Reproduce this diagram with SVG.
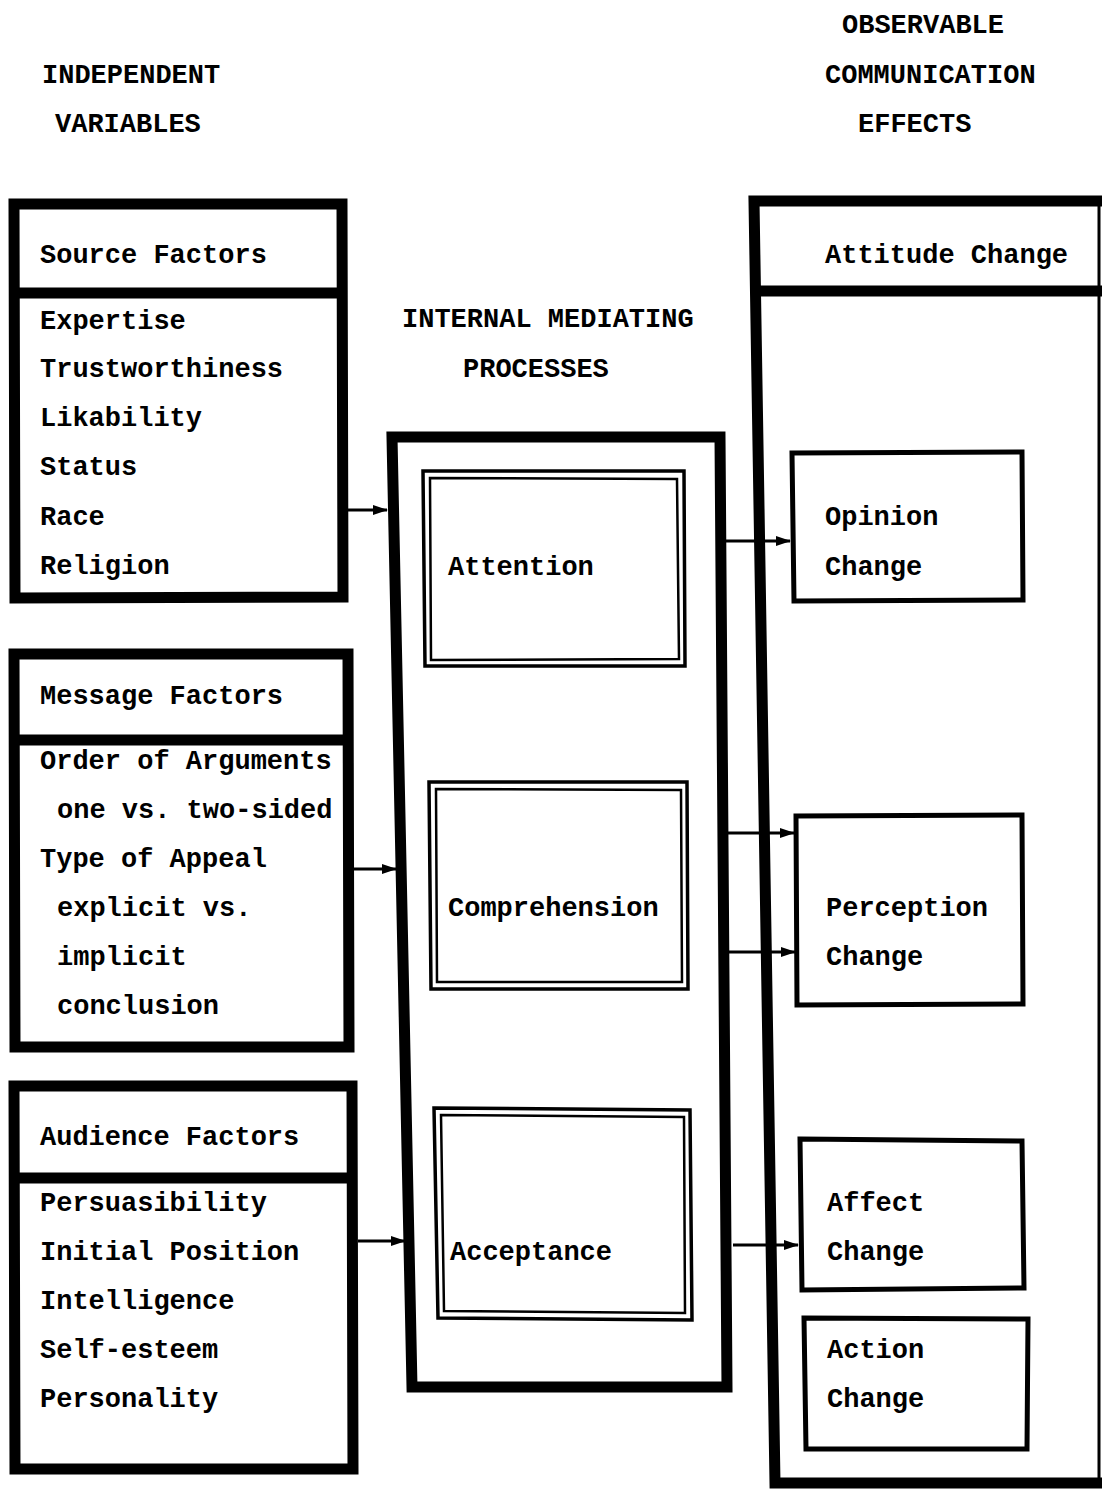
<svg xmlns="http://www.w3.org/2000/svg" width="1102" height="1489" viewBox="0 0 1102 1489">
  <style>
    text { font-family: "Liberation Mono", "Courier New", monospace; font-weight: bold; font-size: 27px; fill: #000; }
    .heavy { fill: none; stroke: #000; stroke-width: 11; stroke-linejoin: miter; }
    .div { stroke: #000; stroke-width: 11; }
    .med { fill: none; stroke: #000; stroke-width: 5; }
    .dbl-o { fill: none; stroke: #000; stroke-width: 3.5; }
    .dbl-i { fill: none; stroke: #000; stroke-width: 2.5; }
    .conn { stroke: #000; stroke-width: 3; fill: none; }
  </style>
  <defs>
    <marker id="head" markerWidth="15" markerHeight="12" refX="14" refY="6" orient="auto" markerUnits="userSpaceOnUse">
      <path d="M0,1 L15,6 L0,11 Z" fill="#000"/>
    </marker>
  </defs>
  <rect width="1102" height="1489" fill="#fff"/>

  <!-- column headings -->
  <g id="headings">
    <text x="42" y="83">INDEPENDENT</text>
    <text x="55" y="132">VARIABLES</text>
    <text x="842" y="33">OBSERVABLE</text>
    <text x="825" y="83">COMMUNICATION</text>
    <text x="858" y="132">EFFECTS</text>
    <text x="402" y="327">INTERNAL MEDIATING</text>
    <text x="463" y="377">PROCESSES</text>
  </g>

  <!-- independent variables -->
  <g id="source-factors">
    <path class="heavy" d="M14,204 L342,204 L343,597 L15,598 Z"/>
    <line class="div" x1="14" y1="293" x2="342" y2="293"/>
    <text x="40" y="263">Source Factors</text>
    <text x="40" y="329">Expertise</text>
    <text x="40" y="377">Trustworthiness</text>
    <text x="40" y="426">Likability</text>
    <text x="40" y="475">Status</text>
    <text x="40" y="525">Race</text>
    <text x="40" y="574">Religion</text>
  </g>

  <g id="message-factors">
    <path class="heavy" d="M14,654 L348,654 L349,1047 L15,1047 Z"/>
    <line class="div" x1="14" y1="740" x2="348" y2="740"/>
    <text x="40" y="704">Message Factors</text>
    <text x="40" y="769">Order of Arguments</text>
    <text x="57" y="818">one vs. two-sided</text>
    <text x="40" y="867">Type of Appeal</text>
    <text x="57" y="916">explicit vs.</text>
    <text x="57" y="965">implicit</text>
    <text x="57" y="1014">conclusion</text>
  </g>

  <g id="audience-factors">
    <path class="heavy" d="M14,1086 L352,1086 L353,1469 L15,1469 Z"/>
    <line class="div" x1="14" y1="1178" x2="352" y2="1178"/>
    <text x="40" y="1145">Audience Factors</text>
    <text x="40" y="1211">Persuasibility</text>
    <text x="40" y="1260">Initial Position</text>
    <text x="40" y="1309">Intelligence</text>
    <text x="40" y="1358">Self-esteem</text>
    <text x="40" y="1407">Personality</text>
  </g>

  <!-- internal mediating processes -->
  <g id="mediating-processes">
    <path class="heavy" d="M392,437 L720,437 L727,1387 L412,1387 Z" stroke-width="12"/>
  </g>

  <g id="attention">
    <path class="dbl-o" d="M423,471 L684,471 L685,666 L425,666 Z"/>
    <path class="dbl-i" d="M430,478 L677,479 L679,659 L431,660 Z"/>
    <text x="448" y="575">Attention</text>
  </g>

  <g id="comprehension">
    <path class="dbl-o" d="M429,782 L687,782 L688,989 L431,989 Z"/>
    <path class="dbl-i" d="M436,789 L681,790 L682,982 L437,982 Z"/>
    <text x="448" y="916">Comprehension</text>
  </g>

  <g id="acceptance">
    <path class="dbl-o" d="M434,1108 L690,1110 L692,1320 L438,1318 Z"/>
    <path class="dbl-i" d="M441,1115 L684,1117 L685,1313 L444,1311 Z"/>
    <text x="450" y="1260">Acceptance</text>
  </g>

  <!-- observable communication effects -->
  <g id="attitude-change">
    <path class="heavy" d="M1102,201 L754,201 L775,1483 L1102,1483" stroke-width="12"/>
    <line class="div" x1="756" y1="291" x2="1102" y2="291"/>
    <line x1="1099" y1="201" x2="1099" y2="1483" stroke="#000" stroke-width="3"/>
    <text x="825" y="263">Attitude Change</text>
  </g>

  <g id="opinion-change">
    <path class="med" d="M792,453 L1022,452 L1023,600 L794,601 Z"/>
    <text x="825" y="525">Opinion</text>
    <text x="825" y="575">Change</text>
  </g>

  <g id="perception-change">
    <path class="med" d="M796,816 L1022,815 L1023,1004 L797,1005 Z"/>
    <text x="826" y="916">Perception</text>
    <text x="826" y="965">Change</text>
  </g>

  <g id="affect-change">
    <path class="med" d="M800,1139 L1022,1141 L1024,1288 L802,1290 Z"/>
    <text x="827" y="1211">Affect</text>
    <text x="827" y="1260">Change</text>
  </g>

  <g id="action-change">
    <path class="med" d="M804,1318 L1028,1319 L1027,1449 L806,1449 Z"/>
    <text x="827" y="1358">Action</text>
    <text x="827" y="1407">Change</text>
  </g>

  <!-- connectors -->
  <g id="connectors">
    <line class="conn" x1="348" y1="510" x2="387" y2="510" marker-end="url(#head)"/>
    <line class="conn" x1="354" y1="869" x2="396" y2="869" marker-end="url(#head)"/>
    <line class="conn" x1="358" y1="1241" x2="405" y2="1241" marker-end="url(#head)"/>
    <line class="conn" x1="726" y1="541" x2="790" y2="541" marker-end="url(#head)"/>
    <line class="conn" x1="727" y1="833" x2="794" y2="833" marker-end="url(#head)"/>
    <line class="conn" x1="728" y1="952" x2="795" y2="952" marker-end="url(#head)"/>
    <line class="conn" x1="733" y1="1245" x2="798" y2="1245" marker-end="url(#head)"/>
  </g>
</svg>
